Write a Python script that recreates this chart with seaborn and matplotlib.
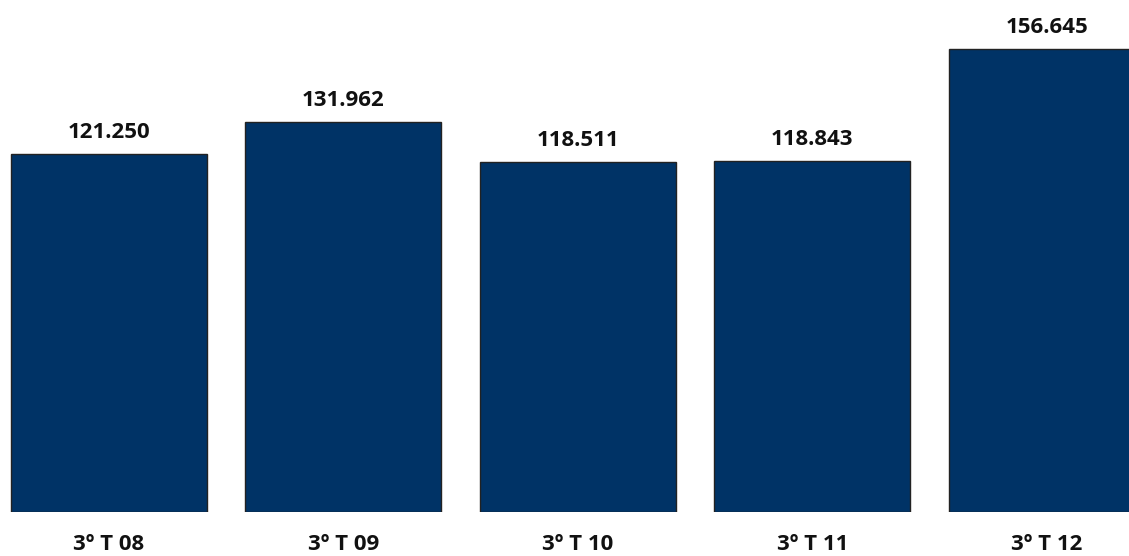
import matplotlib
matplotlib.use("Agg")
import matplotlib.pyplot as plt
import seaborn as sns
import pandas as pd

categories = ["3º T 08", "3º T 09", "3º T 10", "3º T 11", "3º T 12"]
values = [121.250, 131.962, 118.511, 118.843, 156.645]
value_labels = ["121.250", "131.962", "118.511", "118.843", "156.645"]

sns.set_theme(style="white")
plt.rcParams['font.family'] = ['Open Sans', 'DejaVu Sans']

df = pd.DataFrame({"cat": categories, "val": values})

fig = plt.figure(figsize=(11.29, 5.56), dpi=100)
ax = fig.add_axes([0, 44/556, 1, 512/556])
sns.barplot(data=df, x="cat", y="val", color="#003366", saturation=1,
            width=0.836, edgecolor="#222222", linewidth=1.0, ax=ax)

ax.set_xlim(-0.4635, 4.351)
ax.set_ylim(0, 512/2.956)
for i, (v, lab) in enumerate(zip(values, value_labels)):
    ax.text(i, v + 3.6, lab, ha="center", va="bottom", fontsize=16,
            fontweight="bold", color="#111111")

for s in ax.spines.values():
    s.set_visible(False)
ax.set_yticks([])
ax.set_xlabel("")
ax.set_ylabel("")
ax.tick_params(axis="x", length=0, pad=15.5, labelsize=16)
for t in ax.get_xticklabels():
    t.set_fontweight("bold")
    t.set_color("#111111")

fig.savefig("out.png", dpi=100)
